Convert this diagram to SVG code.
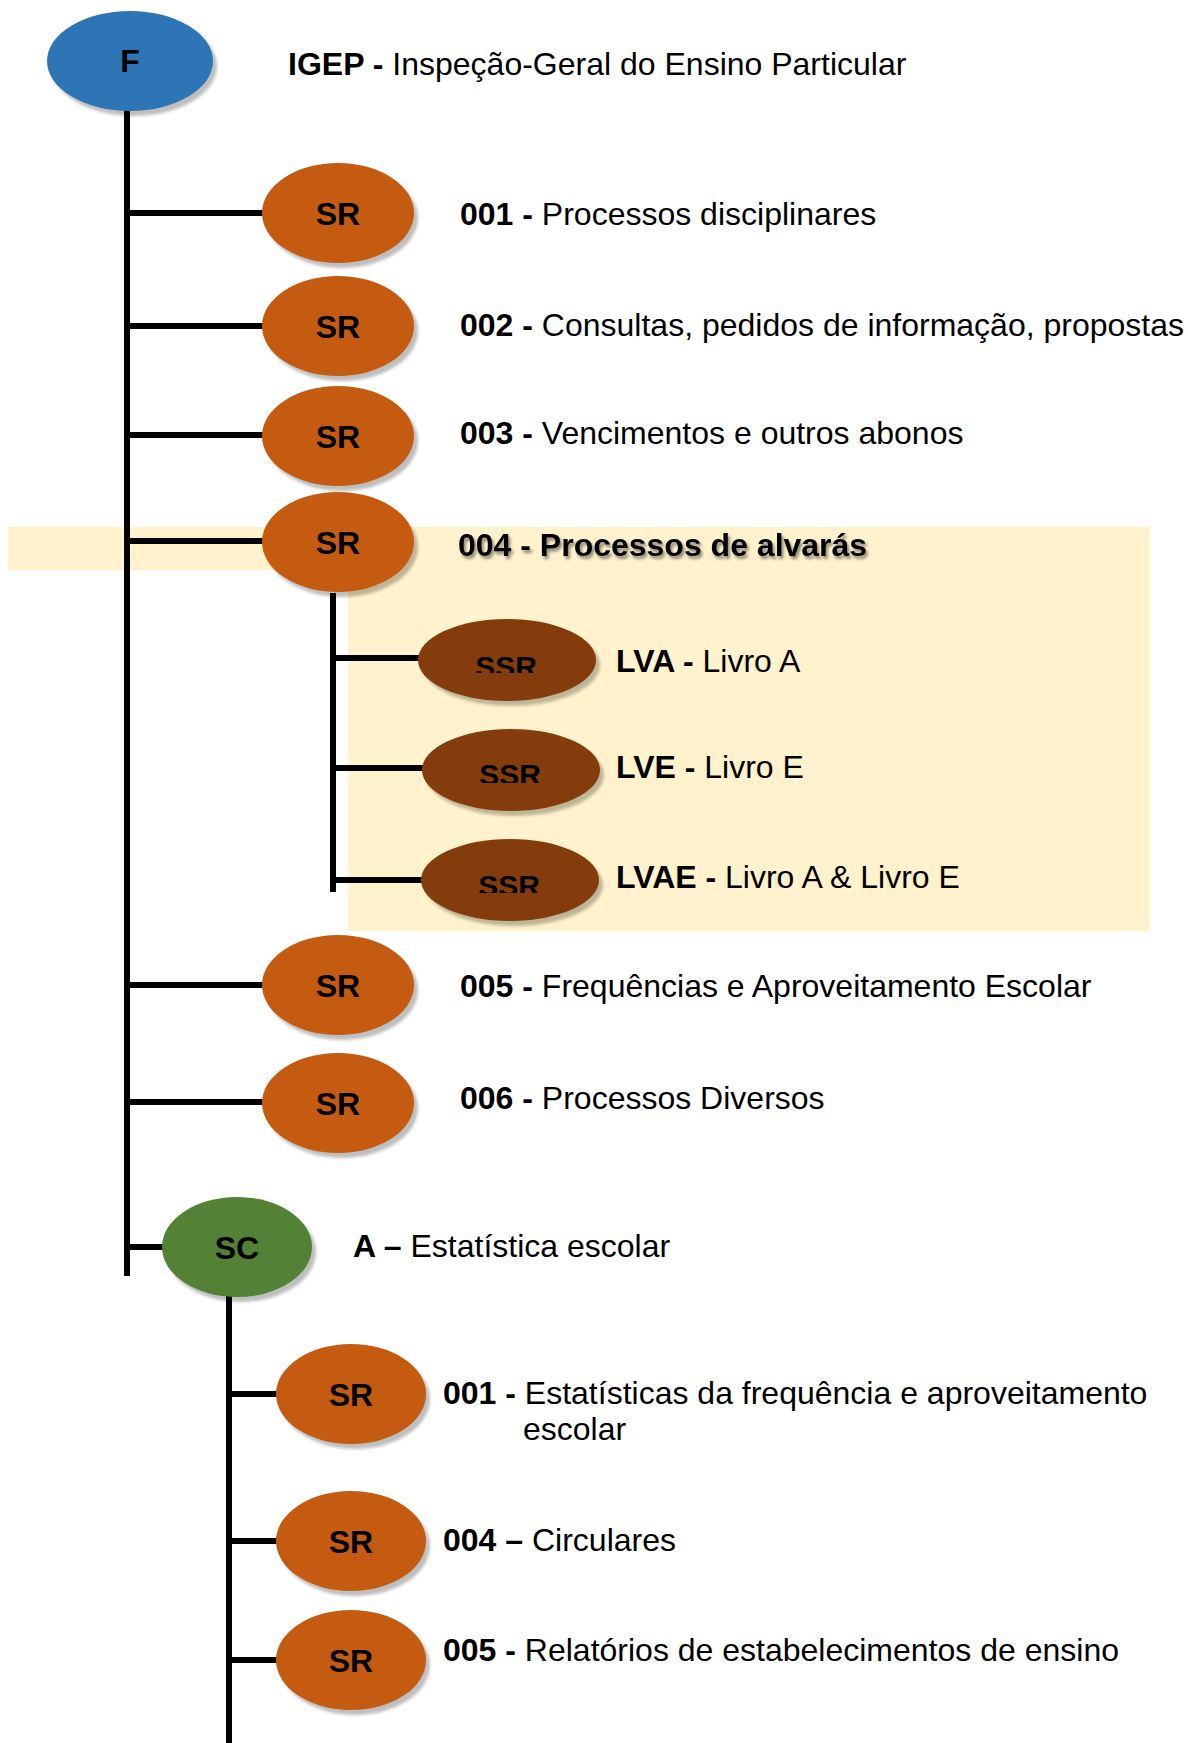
<svg xmlns="http://www.w3.org/2000/svg" width="1188" height="1743" viewBox="0 0 1188 1743">
  <style>
    .t { font-family: "Liberation Sans", Arial, sans-serif; font-size: 32px; fill: #000; }
    .b { font-weight: bold; }
    .lbl { font-family: "Liberation Sans", Arial, sans-serif; font-size: 32px; font-weight: bold; fill: #000; text-anchor: middle; }
    .ssrl { font-size: 30px; }
    .sh { fill: #000; opacity: 0.25; filter: url(#blur); }
    .conn line { stroke: #000; stroke-width: 6; }
    .f { fill: #2E75B6; }
    .sr { fill: #C55A11; }
    .ssr { fill: #843C0C; }
    .sc { fill: #538135; }
  </style>
  <defs>
    <filter id="blur" x="-20%" y="-20%" width="140%" height="140%">
      <feGaussianBlur stdDeviation="1.5"/>
    </filter>
    <filter id="tshadow" x="-5%" y="-30%" width="110%" height="160%">
      <feDropShadow dx="2" dy="3" stdDeviation="1.5" flood-color="#000" flood-opacity="0.45"/>
    </filter>
    <clipPath id="c1"><rect x="430" y="600" width="160" height="73"/></clipPath>
    <clipPath id="c2"><rect x="430" y="710" width="160" height="73"/></clipPath>
    <clipPath id="c3"><rect x="430" y="820" width="160" height="73"/></clipPath>
  </defs>

  <rect width="1188" height="1743" fill="#fff"/>

  <!-- highlight -->
  <g id="highlight">
    <rect x="8" y="527" width="1142" height="43" fill="#FFF2CC"/>
    <rect x="348" y="527" width="802" height="404" fill="#FFF2CC"/>
  </g>

  <!-- connectors -->
  <g id="connectors" class="conn">
    <line x1="127" y1="107" x2="127" y2="1276"/>
    <line x1="127" y1="213" x2="264" y2="213"/>
    <line x1="127" y1="326" x2="264" y2="326"/>
    <line x1="127" y1="435" x2="264" y2="435"/>
    <line x1="127" y1="541" x2="264" y2="541"/>
    <line x1="127" y1="985" x2="264" y2="985"/>
    <line x1="127" y1="1102" x2="264" y2="1102"/>
    <line x1="127" y1="1247" x2="164" y2="1247"/>
    <line x1="333" y1="593" x2="333" y2="892"/>
    <line x1="333" y1="658" x2="420" y2="658"/>
    <line x1="333" y1="768" x2="424" y2="768"/>
    <line x1="333" y1="880" x2="423" y2="880"/>
    <line x1="229" y1="1293" x2="229" y2="1743"/>
    <line x1="229" y1="1394" x2="278" y2="1394"/>
    <line x1="229" y1="1541" x2="278" y2="1541"/>
    <line x1="229" y1="1660" x2="278" y2="1660"/>
  </g>

  <g id="node-F">
    <ellipse class="sh" cx="134" cy="66" rx="83" ry="50"/>
    <ellipse class="f" cx="130" cy="61" rx="83" ry="50"/>
    <text class="lbl" x="130" y="72">F</text>
    <text class="t" x="288" y="75"><tspan class="b">IGEP -</tspan> Inspeção-Geral do Ensino Particular</text>
  </g>

  <g id="node-001">
    <ellipse class="sh" cx="342" cy="218" rx="76" ry="50"/>
    <ellipse class="sr" cx="338" cy="213" rx="76" ry="50"/>
    <text class="lbl" x="338" y="225">SR</text>
    <text class="t" x="460" y="225"><tspan class="b">001 -</tspan> Processos disciplinares</text>
  </g>

  <g id="node-002">
    <ellipse class="sh" cx="342" cy="331" rx="76" ry="50"/>
    <ellipse class="sr" cx="338" cy="326" rx="76" ry="50"/>
    <text class="lbl" x="338" y="338">SR</text>
    <text class="t" x="460" y="336"><tspan class="b">002 -</tspan> Consultas, pedidos de informação, propostas</text>
  </g>

  <g id="node-003">
    <ellipse class="sh" cx="342" cy="441" rx="76" ry="50"/>
    <ellipse class="sr" cx="338" cy="436" rx="76" ry="50"/>
    <text class="lbl" x="338" y="448">SR</text>
    <text class="t" x="460" y="444"><tspan class="b">003 -</tspan> Vencimentos e outros abonos</text>
  </g>

  <g id="node-004">
    <ellipse class="sh" cx="342" cy="547" rx="76" ry="50"/>
    <ellipse class="sr" cx="338" cy="542" rx="76" ry="50"/>
    <text class="lbl" x="338" y="554">SR</text>
    <text class="t b" x="458" y="556" filter="url(#tshadow)">004 - Processos de alvarás</text>
  </g>

  <g id="node-LVA">
    <ellipse class="sh" cx="511" cy="665" rx="89" ry="41"/>
    <ellipse class="ssr" cx="507" cy="660" rx="89" ry="41"/>
    <text class="lbl ssrl" x="506" y="677" clip-path="url(#c1)">SSR</text>
    <text class="t" x="616" y="672"><tspan class="b">LVA -</tspan> Livro A</text>
  </g>

  <g id="node-LVE">
    <ellipse class="sh" cx="515" cy="775" rx="89" ry="41"/>
    <ellipse class="ssr" cx="511" cy="770" rx="89" ry="41"/>
    <text class="lbl ssrl" x="510" y="785" clip-path="url(#c2)">SSR</text>
    <text class="t" x="616" y="778"><tspan class="b">LVE -</tspan> Livro E</text>
  </g>

  <g id="node-LVAE">
    <ellipse class="sh" cx="514" cy="885" rx="89" ry="41"/>
    <ellipse class="ssr" cx="510" cy="880" rx="89" ry="41"/>
    <text class="lbl ssrl" x="509" y="896" clip-path="url(#c3)">SSR</text>
    <text class="t" x="616" y="888"><tspan class="b">LVAE -</tspan> Livro A &amp; Livro E</text>
  </g>

  <g id="node-005">
    <ellipse class="sh" cx="342" cy="990" rx="76" ry="50"/>
    <ellipse class="sr" cx="338" cy="985" rx="76" ry="50"/>
    <text class="lbl" x="338" y="997">SR</text>
    <text class="t" x="460" y="997"><tspan class="b">005 -</tspan> Frequências e Aproveitamento Escolar</text>
  </g>

  <g id="node-006">
    <ellipse class="sh" cx="342" cy="1108" rx="76" ry="50"/>
    <ellipse class="sr" cx="338" cy="1103" rx="76" ry="50"/>
    <text class="lbl" x="338" y="1115">SR</text>
    <text class="t" x="460" y="1109"><tspan class="b">006 -</tspan> Processos Diversos</text>
  </g>

  <g id="node-A">
    <ellipse class="sh" cx="241" cy="1252" rx="75" ry="50"/>
    <ellipse class="sc" cx="237" cy="1247" rx="75" ry="50"/>
    <text class="lbl" x="237" y="1259">SC</text>
    <text class="t" x="353" y="1257"><tspan class="b">A –</tspan> Estatística escolar</text>
  </g>

  <g id="node-A001">
    <ellipse class="sh" cx="355" cy="1399" rx="75" ry="50"/>
    <ellipse class="sr" cx="351" cy="1394" rx="75" ry="50"/>
    <text class="lbl" x="351" y="1406">SR</text>
    <text class="t" x="443" y="1404"><tspan class="b">001 -</tspan> Estatísticas da frequência e aproveitamento</text>
    <text class="t" x="523" y="1440">escolar</text>
  </g>

  <g id="node-A004">
    <ellipse class="sh" cx="355" cy="1546" rx="75" ry="50"/>
    <ellipse class="sr" cx="351" cy="1541" rx="75" ry="50"/>
    <text class="lbl" x="351" y="1553">SR</text>
    <text class="t" x="443" y="1551"><tspan class="b">004 –</tspan> Circulares</text>
  </g>

  <g id="node-A005">
    <ellipse class="sh" cx="355" cy="1665" rx="75" ry="50"/>
    <ellipse class="sr" cx="351" cy="1660" rx="75" ry="50"/>
    <text class="lbl" x="351" y="1672">SR</text>
    <text class="t" x="443" y="1661"><tspan class="b">005 -</tspan> Relatórios de estabelecimentos de ensino</text>
  </g>
</svg>
